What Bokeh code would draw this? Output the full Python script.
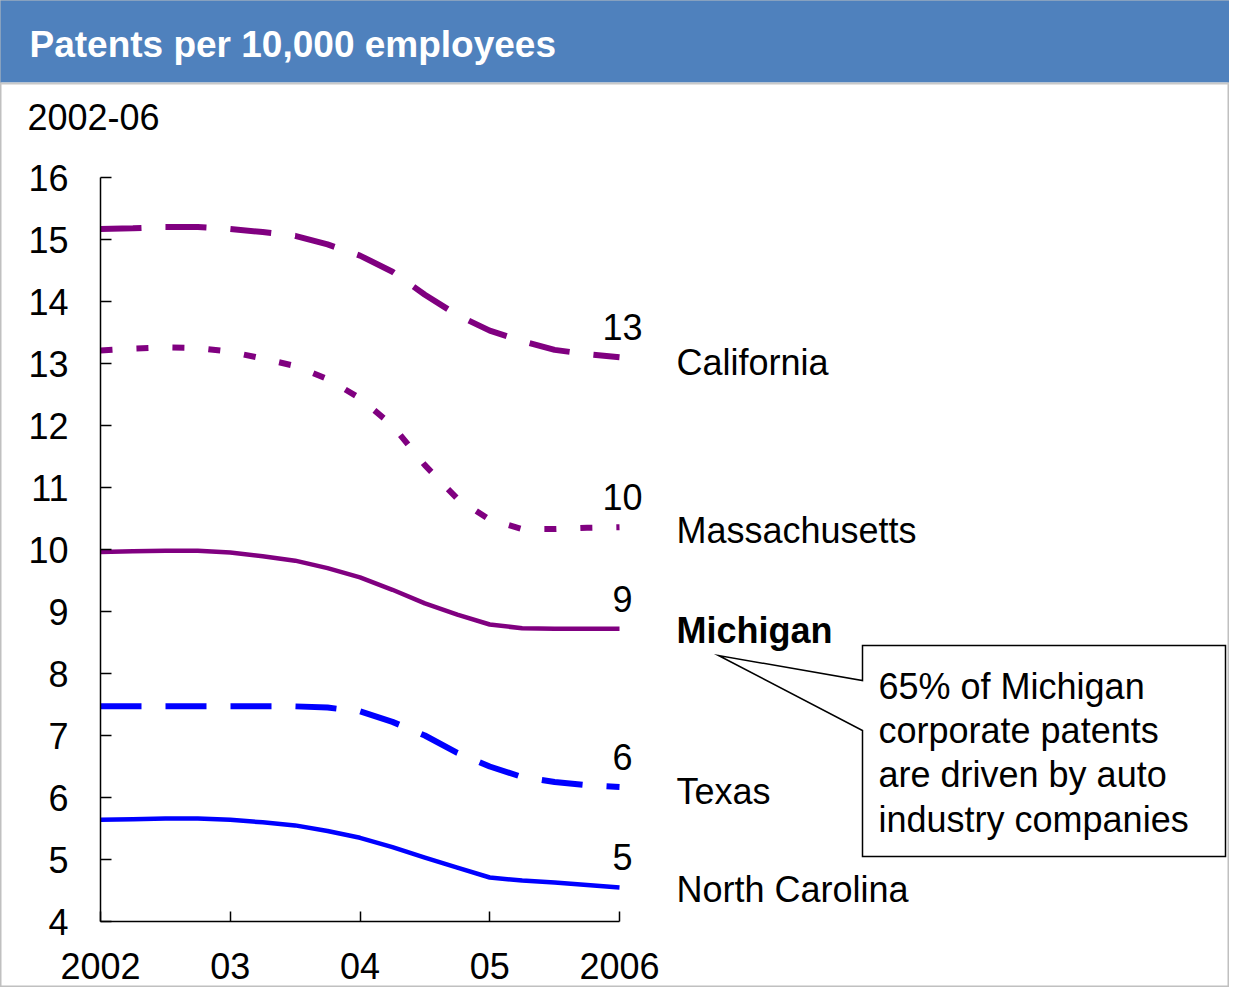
from bokeh.plotting import figure
from bokeh.models import Range1d, LinearAxis, FixedTicker
from bokeh.embed import file_html
from bokeh.resources import INLINE
from bokeh.core.properties import value

# ---------------- data ----------------
years = [2002.0, 2002.25, 2002.5, 2002.75, 2003.0, 2003.25, 2003.5, 2003.75,
         2004.0, 2004.25, 2004.5, 2004.75, 2005.0, 2005.25, 2005.5, 2005.75, 2006.0]
california = [15.17, 15.18, 15.20, 15.20, 15.17, 15.12, 15.06, 14.92,
              14.74, 14.48, 14.11, 13.78, 13.53, 13.36, 13.22, 13.15, 13.10]
massachusetts = [13.21, 13.24, 13.26, 13.25, 13.19, 13.08, 12.96, 12.75,
                 12.44, 12.00, 11.36, 10.82, 10.48, 10.33, 10.33, 10.35, 10.36]
michigan = [9.96, 9.97, 9.98, 9.98, 9.95, 9.89, 9.82, 9.70,
            9.55, 9.35, 9.13, 8.95, 8.79, 8.73, 8.72, 8.72, 8.72]
texas = [7.47, 7.47, 7.47, 7.47, 7.47, 7.47, 7.47, 7.45,
         7.39, 7.22, 7.00, 6.72, 6.50, 6.33, 6.25, 6.20, 6.17]
north_carolina = [5.64, 5.65, 5.66, 5.66, 5.64, 5.60, 5.55, 5.46,
                  5.35, 5.20, 5.03, 4.87, 4.71, 4.66, 4.63, 4.59, 4.55]

states = ["California", "Massachusetts", "Michigan", "Texas", "North Carolina"]
end_labels = ["13", "10", "9", "6", "5"]
y_ticks = [4, 5, 6, 7, 8, 9, 10, 11, 12, 13, 14, 15, 16]
x_ticks = [2002, 2003, 2004, 2005, 2006]
x_tick_labels = ["2002", "03", "04", "05", "2006"]
title_text = "Patents per 10,000 employees"
subtitle_text = "2002-06"
note_lines = ["65% of Michigan", "corporate patents", "are driven by auto", "industry companies"]

# ---------------- layout helpers (canvas pixel -> data) ----------------
PX_YEAR = 129.75
PX_UNIT = 62.0
def rx(px):
    return 2002 + (px - 100) / PX_YEAR
def ry(py):
    return 16 - (py - 177) / PX_UNIT

W, H = 1229, 987
FONT = value("Liberation Sans")
PURPLE = "#800080"
BLUE = "#0000FF"

p = figure(width=W, height=H, output_backend="svg", toolbar_location=None,
           x_range=Range1d(rx(0), rx(W)), y_range=Range1d(ry(H), ry(0)),
           x_axis_type=None, y_axis_type=None, min_border=0)
p.xgrid.visible = False
p.ygrid.visible = False
p.outline_line_color = "#C0C0C0"
p.outline_line_width = 2
p.background_fill_color = "white"
p.border_fill_color = "white"

# header band
p.quad(left=[rx(-5)], right=[rx(W + 5)], top=[ry(-5)], bottom=[ry(82)],
       fill_color="#4F81BD", line_color=None)
p.segment(x0=[rx(-5)], x1=[rx(W + 5)], y0=[ry(83)], y1=[ry(83)],
          line_color="#C8C8C8", line_width=2)
p.text(x=[rx(29)], y=[ry(44)], text=[title_text], text_font=FONT,
       text_font_size="37px", text_font_style="bold", text_color="white",
       text_baseline="middle", text_align="left")
p.text(x=[rx(27)], y=[ry(116)], text=[subtitle_text], text_font=FONT,
       text_font_size="36px", text_color="black",
       text_baseline="middle", text_align="left")

# axes
yax = LinearAxis(fixed_location=2002, bounds=(4, 16), ticker=FixedTicker(ticks=y_ticks))
xax = LinearAxis(fixed_location=4, bounds=(2002, 2006), ticker=FixedTicker(ticks=x_ticks),
                 major_label_overrides={t: l for t, l in zip(x_ticks, x_tick_labels)})
for ax in (yax, xax):
    ax.axis_line_color = "black"
    ax.axis_line_width = 1.5
    ax.major_tick_line_color = "black"
    ax.major_tick_line_width = 1.5
    ax.major_tick_out = 0
    ax.minor_tick_line_color = None
    ax.major_label_text_font = "Liberation Sans"
    ax.major_label_text_font_size = "36px"
    ax.major_label_text_color = "black"
yax.major_tick_in = 11
yax.major_label_standoff = 32
xax.major_tick_in = 10
xax.major_label_standoff = 31
p.add_layout(yax, "left")
p.add_layout(xax, "below")

# series
p.line(years, california, line_color=PURPLE, line_width=6, line_dash="41 24", line_cap="butt")
p.line(years, massachusetts, line_color=PURPLE, line_width=6, line_dash="12 24", line_cap="butt")
p.line(years, michigan, line_color=PURPLE, line_width=4.5, line_join="round")
p.line(years, texas, line_color=BLUE, line_width=6, line_dash="41 24", line_cap="butt")
p.line(years, north_carolina, line_color=BLUE, line_width=4.5, line_join="round")

series = [california, massachusetts, michigan, texas, north_carolina]
p.text(x=[years[-1]] * len(series), y=[s[-1] for s in series], text=end_labels,
       x_offset=3, y_offset=-30, text_font=FONT, text_font_size="36px",
       text_color="black", text_align="center", text_baseline="middle")

# state names
name_y = [362, 530, 630, 791, 889]
plain = [i for i in range(len(states)) if states[i] != "Michigan"]
p.text(x=[rx(676)] * len(plain), y=[ry(name_y[i]) for i in plain],
       text=[states[i] for i in plain], text_font=FONT, text_font_size="36px",
       text_color="black", text_align="left", text_baseline="middle")
p.text(x=[rx(676)], y=[ry(name_y[2])], text=[states[2]], text_font=FONT,
       text_font_size="36px", text_font_style="bold", text_color="black",
       text_align="left", text_baseline="middle")

# callout box
bx = [862, 1225, 1225, 862, 862, 718, 862]
by = [645, 645, 856, 856, 730, 655, 680]
p.patch([rx(v) for v in bx], [ry(v) for v in by], fill_color="white",
        line_color="black", line_width=1.5, line_join="miter")
note_y = [686, 730, 774, 819]
p.text(x=[rx(878)] * len(note_lines), y=[ry(v) for v in note_y], text=note_lines,
       text_font=FONT, text_font_size="36px", text_color="black",
       text_align="left", text_baseline="middle")

open("out.html", "w").write(file_html(p, INLINE))
